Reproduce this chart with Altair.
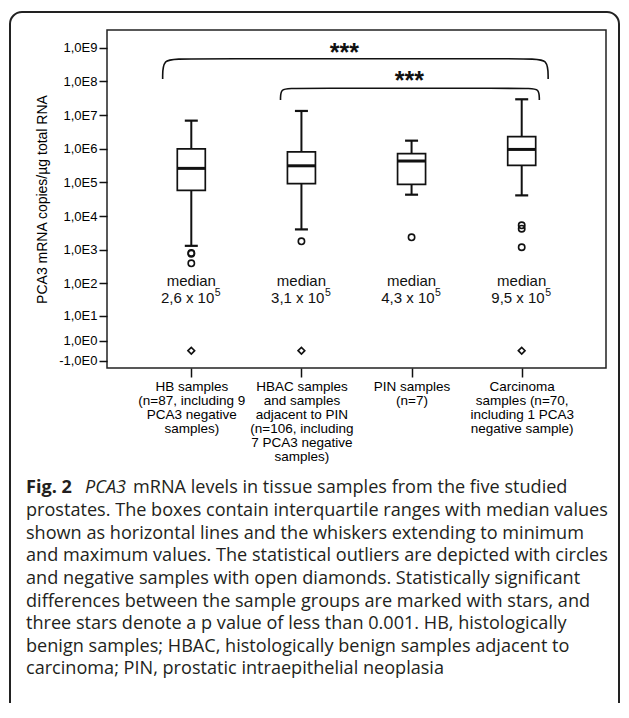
import json
import altair as alt
import pandas as pd

# ---------------- data ----------------
groups = ["HB", "HBAC", "PIN", "Carcinoma"]
group_index = [0, 1, 2, 3]
axis_labels = [
    "HB samples|(n=87, including 9|PCA3 negative|samples)",
    "HBAC samples|and samples|adjacent to PIN|(n=106, including|7 PCA3 negative|samples)",
    "PIN samples|(n=7)",
    "Carcinoma|samples (n=70,|including 1 PCA3|negative sample)",
]
whisker_low = [1.3e3, 4.0e3, 4.3e4, 4.1e4]
q1 = [5.8e4, 9.1e4, 8.7e4, 3.2e5]
median = [2.6e5, 3.1e5, 4.3e5, 9.5e5]
q3 = [9.8e5, 8.0e5, 7.1e5, 2.27e6]
whisker_high = [6.8e6, 1.32e7, 1.73e6, 2.93e7]
median_word = ["median", "median", "median", "median"]
median_mantissa = ["2,6 x 10", "3,1 x 10", "4,3 x 10", "9,5 x 10"]
median_exponent = ["5", "5", "5", "5"]
median_word_y = [120, 120, 120, 120]
median_num_y = [35, 35, 35, 35]

outlier_group = [0, 0, 0, 1, 2, 3, 3, 3]
outlier_value = [800, 760, 393, 1770, 2330, 5300, 4200, 1180]
negative_group = [0, 1, 3]
negative_value = [0, 0, 0]

y_tick_values = [-1, 1, 10, 1e2, 1e3, 1e4, 1e5, 1e6, 1e7, 1e8, 1e9]
y_tick_labels = ["-1,0E0", "1,0E0", "1,0E1", "1,0E2", "1,0E3", "1,0E4",
                 "1,0E5", "1,0E6", "1,0E7", "1,0E8", "1,0E9"]

bracket_id = [1, 1, 1, 1, 1, 1, 2, 2, 2, 2, 2, 2]
bracket_order = [0, 1, 2, 3, 4, 5, 0, 1, 2, 3, 4, 5]
bracket_x = [-0.26, -0.26, -0.10, 3.08, 3.24, 3.24,
             0.81, 0.81, 0.92, 3.05, 3.16, 3.16]
bracket_y = [1.17e8, 4.71e8, 4.71e8, 4.71e8, 4.71e8, 1.17e8,
             2.79e7, 6.21e7, 6.21e7, 6.21e7, 6.21e7, 2.79e7]
star_x = [1.39, 1.98]
star_y = [3.9e8, 5.9e7]
star_text = ["***", "***"]

caption_bold = "Fig. 2"
caption_italic = "PCA3"
caption_first = "mRNA levels in tissue samples from the five studied"
caption_rest = [
    "prostates. The boxes contain interquartile ranges with median values",
    "shown as horizontal lines and the whiskers extending to minimum",
    "and maximum values. The statistical outliers are depicted with circles",
    "and negative samples with open diamonds. Statistically significant",
    "differences between the sample groups are marked with stars, and",
    "three stars denote a p value of less than 0.001. HB, histologically",
    "benign samples; HBAC, histologically benign samples adjacent to",
    "carcinoma; PIN, prostatic intraepithelial neoplasia",
]

# ---------------- tables ----------------
box_df = pd.DataFrame({
    "group": groups, "idx": group_index, "lo": whisker_low, "q1": q1,
    "med": median, "q3": q3, "hi": whisker_high,
    "mword": median_word, "mnum": median_mantissa, "mexp": median_exponent,
    "wy": median_word_y, "ny": median_num_y,
})
out_df = pd.DataFrame({"idx": outlier_group, "v": outlier_value})
neg_df = pd.DataFrame({"idx": negative_group, "v": negative_value})
br_df = pd.DataFrame({"bx": bracket_x, "by": bracket_y, "b": bracket_id, "k": bracket_order})
st_df = pd.DataFrame({"sx": star_x, "sy": star_y, "t": star_text})
one = pd.DataFrame({"t": [""]})

INK = "#111111"
AX_FONT = "Liberation Sans"

x_label_expr = "split(" + json.dumps(axis_labels) + "[datum.value], '|')"
y_label_expr = (json.dumps(y_tick_labels) + "[indexof(" +
                json.dumps(y_tick_values) + ", datum.value)]")

x_scale = alt.Scale(domain=[-0.72, 3.72], nice=False, zero=False)
y_scale = alt.Scale(type="symlog", constant=1, domain=[-2.27, 3.35e9], nice=False, zero=False)

x_axis = alt.Axis(values=group_index, labelExpr=x_label_expr, tickSize=9, tickWidth=1.5,
                  tickColor=INK, domain=False, grid=False, labelFont=AX_FONT, labelFontSize=13.5,
                  labelColor="#000", labelLineHeight=14, labelPadding=2.5, labelOverlap=False,
                  labelFlush=False, labelBound=False, labelBaseline="top")
y_axis = alt.Axis(values=y_tick_values, labelExpr=y_label_expr, tickSize=8, tickWidth=1.5,
                  tickColor=INK, domain=False, grid=False, labelFont=AX_FONT, labelFontSize=13,
                  labelColor="#000", labelPadding=2, labelOverlap=False, labelFlush=False,
                  labelBound=False, titleFont=AX_FONT, titleFontSize=14, titleFontWeight="normal",
                  titleColor="#000", titlePadding=9)
Y_TITLE = "PCA3 mRNA copies/µg total RNA"


def X(field):
    return alt.X(field, type="quantitative", scale=x_scale, axis=x_axis, title=None)


def Y(field):
    return alt.Y(field, type="quantitative", scale=y_scale, axis=y_axis, title=Y_TITLE)


whisker = alt.Chart(box_df).mark_rule(color=INK, strokeWidth=2).encode(
    x=X("idx"), y=Y("lo"), y2="hi")
box = alt.Chart(box_df).mark_bar(size=28, fill="white", stroke=INK, strokeWidth=1.7).encode(
    x=X("idx"), y=Y("q1"), y2="q3")
med = alt.Chart(box_df).mark_rule(color=INK, strokeWidth=3, xOffset=-14, x2Offset=14).encode(
    x=X("idx"), x2="idx", y=Y("med"))
cap_lo = alt.Chart(box_df).mark_rule(color=INK, strokeWidth=2.2, xOffset=-6.5, x2Offset=6.5).encode(
    x=X("idx"), x2="idx", y=Y("lo"))
cap_hi = alt.Chart(box_df).mark_rule(color=INK, strokeWidth=2.2, xOffset=-6.5, x2Offset=6.5).encode(
    x=X("idx"), x2="idx", y=Y("hi"))
outl = alt.Chart(out_df).mark_point(shape="circle", size=40, filled=False, stroke=INK,
                                    strokeWidth=1.6, opacity=1).encode(x=X("idx"), y=Y("v"))
negs = alt.Chart(neg_df).mark_point(shape="diamond", size=45, filled=False, stroke=INK,
                                    strokeWidth=1.6, opacity=1).encode(x=X("idx"), y=Y("v"))
mword = alt.Chart(box_df).mark_text(font=AX_FONT, fontSize=15, baseline="middle",
                                    align="center", color=INK).encode(
    x=X("idx"), y=Y("wy"), text="mword:N")
mnum = alt.Chart(box_df).mark_text(font=AX_FONT, fontSize=15, baseline="middle",
                                   align="right", dx=23, color=INK).encode(
    x=X("idx"), y=Y("ny"), text="mnum:N")
mexp = alt.Chart(box_df).mark_text(font=AX_FONT, fontSize=10.5, baseline="middle",
                                   align="left", dx=23.5, dy=-5, color=INK).encode(
    x=X("idx"), y=Y("ny"), text="mexp:N")
brackets = alt.Chart(br_df).mark_line(interpolate="basis", color=INK, strokeWidth=1.6).encode(
    x=X("bx"), y=Y("by"), detail="b:N", order="k:Q")
stars = alt.Chart(st_df).mark_text(font=AX_FONT, fontSize=25, fontWeight="bold",
                                   baseline="alphabetic", align="center", color=INK).encode(
    x=X("sx"), y=Y("sy"), text="t:N")

CAP_FONT = "Open Sans"
CAP_SIZE = 18.1
CAP_COLOR = "#231f20"
cap_b = alt.Chart(one).mark_text(font=CAP_FONT, fontSize=CAP_SIZE, fontWeight="bold", align="left",
                                 baseline="alphabetic", color=CAP_COLOR).encode(
    x=alt.value(-81), y=alt.value(463.3), text=alt.value(caption_bold))
cap_i = alt.Chart(one).mark_text(font=CAP_FONT, fontSize=CAP_SIZE, fontStyle="italic", align="left",
                                 baseline="alphabetic", color=CAP_COLOR).encode(
    x=alt.value(-22), y=alt.value(463.3), text=alt.value(caption_italic))
cap_1 = alt.Chart(one).mark_text(font=CAP_FONT, fontSize=CAP_SIZE, align="left",
                                 baseline="alphabetic", color=CAP_COLOR).encode(
    x=alt.value(26), y=alt.value(463.3), text=alt.value(caption_first))
cap_r = alt.Chart(one).mark_text(font=CAP_FONT, fontSize=CAP_SIZE, align="left", lineHeight=22.6,
                                 baseline="alphabetic", color=CAP_COLOR).encode(
    x=alt.value(-81), y=alt.value(486.3), text=alt.value(caption_rest))
frame = alt.Chart(one).mark_rect(filled=False, stroke="#222", strokeWidth=2, cornerRadius=12).encode(
    x=alt.value(-97), x2=alt.value(512), y=alt.value(-18), y2=alt.value(760))

chart = alt.layer(
    frame, whisker, box, med, cap_lo, cap_hi, outl, negs, mword, mnum, mexp, brackets, stars,
    cap_b, cap_i, cap_1, cap_r,
).properties(
    width=499, height=338,
    autosize=alt.AutoSizeParams(type="none"),
    padding={"left": 99, "top": 22, "right": 15, "bottom": 335},
    background="white",
).configure_view(stroke="#222", strokeWidth=1.5)

chart.save("out.html", embed_options={"renderer": "svg", "actions": False})
